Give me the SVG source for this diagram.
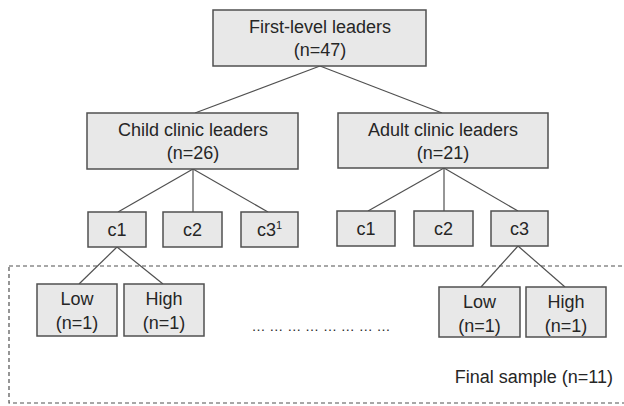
<svg xmlns="http://www.w3.org/2000/svg" width="624" height="406" viewBox="0 0 624 406">
<style>
.box{fill:#e8e8e8;stroke:#505050;stroke-width:1.5}
.ln{stroke:#505050;stroke-width:1.2;fill:none}
.t{font-family:"Liberation Sans",Arial,sans-serif;font-size:18px;fill:#262626;text-anchor:middle}
.frame{fill:none;stroke:#505050;stroke-width:1.2;stroke-dasharray:4 3}
</style>
<rect width="624" height="406" fill="#fff"/>
<rect id="final-sample" class="frame" x="9" y="266" width="625" height="137"/>
<g id="connectors">
<line class="ln" x1="320" y1="66" x2="195" y2="113"/>
<line class="ln" x1="320" y1="66" x2="442" y2="113"/>
<line class="ln" x1="193" y1="169" x2="118" y2="212"/>
<line class="ln" x1="193" y1="169" x2="193" y2="212"/>
<line class="ln" x1="193" y1="169" x2="268" y2="212"/>
<line class="ln" x1="444" y1="168" x2="368" y2="211"/>
<line class="ln" x1="444" y1="168" x2="444" y2="211"/>
<line class="ln" x1="444" y1="168" x2="518" y2="211"/>
<line class="ln" x1="117" y1="247" x2="79" y2="284"/>
<line class="ln" x1="117" y1="247" x2="163" y2="284"/>
<line class="ln" x1="518" y1="246" x2="481" y2="287"/>
<line class="ln" x1="518" y1="246" x2="565" y2="287"/>
</g>
<g id="first-level">
<rect class="box" x="213" y="10" width="213" height="56"/>
<text class="t" x="320" y="33">First-level leaders</text>
<text class="t" x="320" y="56">(n=47)</text>
</g>
<g id="child-leaders">
<rect class="box" x="87" y="113" width="211" height="56"/>
<text class="t" x="193" y="136">Child clinic leaders</text>
<text class="t" x="193" y="159">(n=26)</text>
</g>
<g id="adult-leaders">
<rect class="box" x="338" y="113" width="210" height="55"/>
<text class="t" x="443" y="136">Adult clinic leaders</text>
<text class="t" x="443" y="159">(n=21)</text>
</g>
<g id="child-c1">
<rect class="box" x="88" y="212" width="58" height="35"/>
<text class="t" x="117" y="236">c1</text>
</g>
<g id="child-c2">
<rect class="box" x="163" y="212" width="59" height="35"/>
<text class="t" x="192.5" y="236">c2</text>
</g>
<g id="child-c3">
<rect class="box" x="241" y="212" width="57" height="35"/>
<text class="t" x="269.5" y="236">c3<tspan font-size="11" dy="-7">1</tspan></text>
</g>
<g id="adult-c1">
<rect class="box" x="337" y="211" width="58" height="35"/>
<text class="t" x="366" y="235">c1</text>
</g>
<g id="adult-c2">
<rect class="box" x="414" y="211" width="59" height="35"/>
<text class="t" x="443.5" y="235">c2</text>
</g>
<g id="adult-c3">
<rect class="box" x="491" y="211" width="57" height="35"/>
<text class="t" x="519.5" y="235">c3</text>
</g>
<g id="child-low">
<rect class="box" x="37" y="284" width="80" height="52"/>
<text class="t" x="77" y="305">Low</text>
<text class="t" x="77" y="329">(n=1)</text>
</g>
<g id="child-high">
<rect class="box" x="124" y="284" width="80" height="52"/>
<text class="t" x="164" y="305">High</text>
<text class="t" x="164" y="329">(n=1)</text>
</g>
<g id="adult-low">
<rect class="box" x="439" y="287" width="81" height="50"/>
<text class="t" x="479.5" y="308">Low</text>
<text class="t" x="479.5" y="332">(n=1)</text>
</g>
<g id="adult-high">
<rect class="box" x="526" y="287" width="80" height="50"/>
<text class="t" x="566" y="308">High</text>
<text class="t" x="566" y="332">(n=1)</text>
</g>
<text class="t" x="321" y="331" style="font-size:14px">… … … … … … … …</text>
<text class="t" x="613" y="383" style="text-anchor:end">Final sample (n=11)</text>
</svg>
